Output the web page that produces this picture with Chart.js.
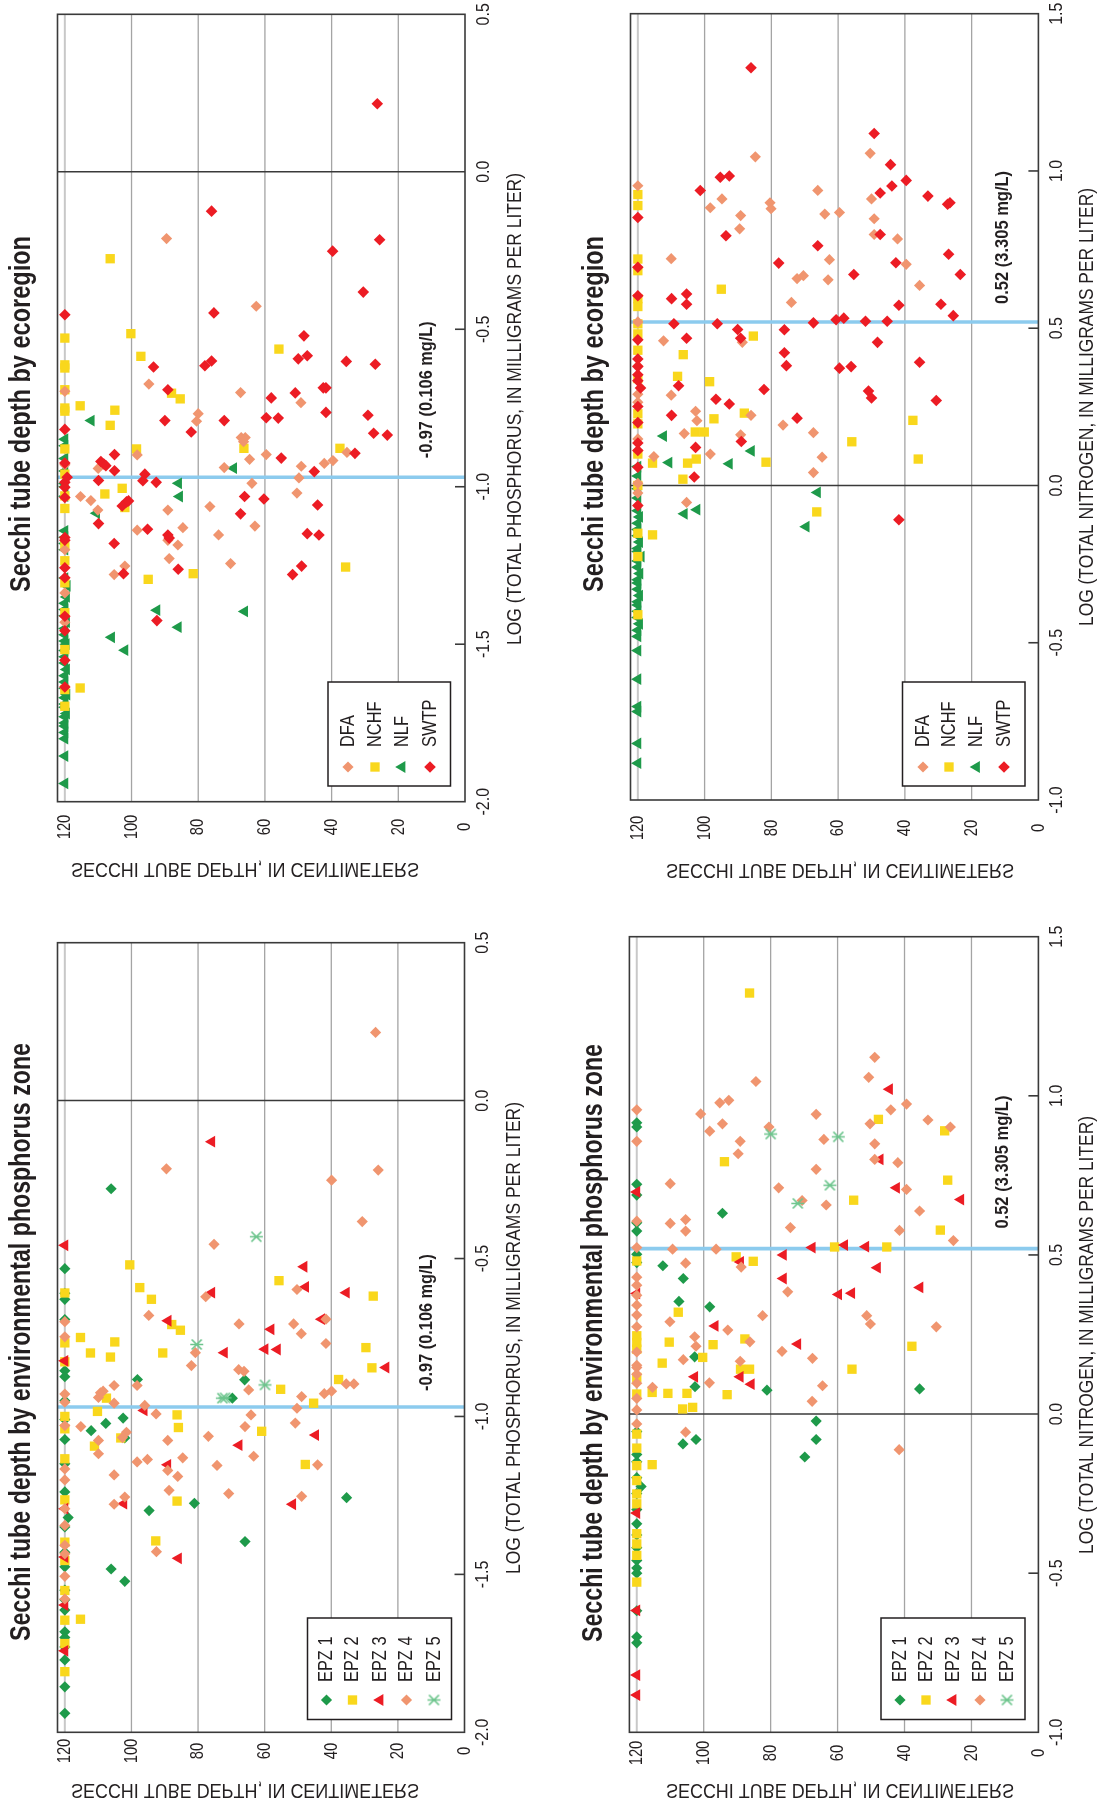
<!DOCTYPE html>
<html>
<head>
<meta charset="utf-8">
<title>Secchi tube depth</title>
<script src="https://cdn.jsdelivr.net/npm/chart.js@4.4.1/dist/chart.umd.min.js"></script>
<style>
  html, body { margin: 0; padding: 0; background: #ffffff; }
  #page { position: relative; width: 1101px; height: 1807px; overflow: hidden; background: #ffffff; }
  #page canvas { position: absolute; left: 0; top: 0; }
</style>
</head>
<body>
<div id="page">
  <canvas id="pEco" width="1101" height="1807"></canvas>
  <canvas id="nEco" width="1101" height="1807"></canvas>
  <canvas id="pEpz" width="1101" height="1807"></canvas>
  <canvas id="nEpz" width="1101" height="1807"></canvas>
</div>
<script>
// ---- axis ticks and reference lines ----
const SECCHI_TICKS = [0, 20, 40, 60, 80, 100, 120];
const TP_TICKS = [-2.0, -1.5, -1.0, -0.5, 0.0, 0.5];
const TN_TICKS = [-1.0, -0.5, 0.0, 0.5, 1.0, 1.5];
const TP_MEDIAN = -0.97;
const TP_MEDIAN_LABEL = '-0.97 (0.106 mg/L)';
const TN_MEDIAN = 0.52;
const TN_MEDIAN_LABEL = '0.52 (3.305 mg/L)';
const ECOREGIONS = ['DFA', 'NCHF', 'NLF', 'SWTP'];
const ZONES = ['EPZ 1', 'EPZ 2', 'EPZ 3', 'EPZ 4', 'EPZ 5'];

// ---- lakes: [Secchi tube depth (cm), log total phosphorus] by ecoregion ----
const P_ECO_DFA = [[89.5,-0.212],[62.6,-0.427],[94.8,-0.674],[67.3,-0.701],[49.2,-0.733],[80.0,-0.768],[80.5,-0.792],[67.1,-0.844],[65.9,-0.844],[120,-0.697],
  [98.3,-0.899],[66.4,-0.857],[64.6,-0.913],[59.6,-0.898],[72.2,-0.939],[49.1,-0.935],[42.2,-0.926],[39.6,-0.917],[35.4,-0.891],[49.8,-0.972],[63.9,-0.989],[110.0,-0.942],
  [115.3,-1.031],[112.2,-1.044],[110.1,-1.074],[50.4,-1.02],[76.5,-1.063],[89.1,-1.074],[98.3,-1.138],[84.6,-1.13],[73.9,-1.153],[63.0,-1.125],[89.1,-1.17],[86.1,-1.185],
  [88.7,-1.228],[70.3,-1.244],[102.0,-1.252],[105.2,-1.279],[120,-1.337],[120,-0.93],[120,-1.2],[120,-1.43]];
const P_ECO_NCHF = [[106.4,-0.276],[100.2,-0.514],[97.2,-0.586],[55.8,-0.563],[120,-0.528],[120,-0.613],[120,-0.623],[120,-0.692],[120,-0.75],[120,-0.76],
  [88.0,-0.703],[85.4,-0.721],[115.4,-0.743],[105.0,-0.757],[106.4,-0.805],[98.5,-0.88],[66.3,-0.878],[37.5,-0.878],
  [120,-0.88],[120,-0.96],[120,-1.029],[120,-1.069],[120,-1.187],[120,-1.235],[120,-1.305],[120,-1.4],[120,-1.517],[120,-1.644],[120,-1.697],
  [108.0,-1.023],[102.8,-1.005],[102.0,-1.066],[81.5,-1.276],[95.0,-1.294],[115.4,-1.639],[35.8,-1.255]];
const P_ECO_NLF = [[112.1,-0.79],[69.4,-0.941],[85.9,-0.989],[85.6,-1.031],[110.5,-1.084],[66.1,-1.396],[92.4,-1.392],[86.0,-1.446],[106.0,-1.478],[102.0,-1.519],[119.3,-1.315],
  [120,-0.849],[120,-0.87],[120,-0.91],[120,-0.95],[120,-0.99],[120,-1.0],[120,-1.03],[120,-1.14],[120,-1.16],[120,-1.18],[120,-1.2],[120,-1.29],[119.5,-1.35],[120,-1.37],
  [120,-1.39],[120,-1.41],[119.5,-1.43],[120,-1.45],[120,-1.47],[120,-1.49],[119.6,-1.5],[120,-1.52],[120,-1.54],[120,-1.56],[119.5,-1.58],[120,-1.6],[120,-1.62],[120,-1.64],
  [119.4,-1.66],[120,-1.67],[120,-1.69],[120,-1.7],[119.5,-1.72],[120,-1.73],[120,-1.75],[120,-1.76],[120,-1.78],[120,-1.8],[120,-1.855],[120,-1.942]];
const P_ECO_SWTP = [[26.3,0.216],[76.0,-0.125],[25.6,-0.216],[39.7,-0.252],[30.5,-0.382],[120,-0.454],[75.3,-0.448],[48.3,-0.521],[50.0,-0.594],[47.3,-0.584],[35.6,-0.602],
  [26.9,-0.611],[78.0,-0.616],[76.0,-0.601],[93.4,-0.62],[42.5,-0.686],[41.7,-0.686],[89.1,-0.692],[58.1,-0.718],[50.9,-0.702],[41.7,-0.764],[29.1,-0.773],[59.6,-0.781],
  [56.0,-0.782],[90.0,-0.79],[72.2,-0.79],[82.1,-0.826],[27.4,-0.83],[23.3,-0.836],[120,-0.818],
  [105.1,-0.898],[109.2,-0.92],[108.3,-0.928],[107.7,-0.933],[105.1,-0.949],[120,-0.925],[109.9,-0.98],[96.0,-0.96],[96.6,-0.981],[92.6,-0.986],[120,-0.986],[120,-1.002],
  [119.3,-0.97],[55.1,-0.909],[33.0,-0.894],[45.2,-0.952],[66.1,-1.031],[60.3,-1.039],[44.2,-1.058],[120,-1.034],[120,-1.161],[120,-1.17],[120,-1.257],[120,-1.289],
  [120,-1.411],[120,-1.457],[120,-1.551],[120,-1.636],[102.8,-1.061],[101.5,-1.048],[100.9,-1.045],[109.9,-1.117],[95.2,-1.135],[67.3,-1.086],[105.2,-1.18],[89.1,-1.153],
  [88.7,-1.163],[47.3,-1.149],[43.8,-1.153],[102.4,-1.276],[86.0,-1.262],[49.0,-1.252],[51.7,-1.279],[92.4,-1.425]];

// ---- lakes: [Secchi tube depth (cm), log total nitrogen] by ecoregion ----
const N_ECO_DFA = [[84.8,1.045],[50.4,1.056],[120,0.953],[66.1,0.938],[94.8,0.911],[50.0,0.911],[98.3,0.883],[80.4,0.899],[80.1,0.88],[89.2,0.858],[64.0,0.863],[59.6,0.868],
  [49.2,0.848],[89.5,0.816],[49.2,0.798],[42.2,0.784],[110.0,0.721],[62.6,0.718],[39.6,0.703],[72.3,0.658],[70.4,0.667],[63.0,0.654],[35.6,0.636],[74.0,0.582],[112.3,0.46],
  [88.7,0.455],[110.0,0.287],[102.7,0.236],[102.3,0.206],[86.1,0.223],[76.5,0.192],[67.4,0.168],[106.1,0.165],[89.2,0.161],[120,0.52],[120,0.38],[120,0.29],[120,0.265],
  [120,0.148],[115.2,0.092],[98.3,0.1],[64.8,0.09],[67.4,0.041],[105.4,-0.054],[120,0.007],[120,-0.024]];
const N_ECO_NCHF = [[120,0.925],[120,0.89],[120,0.72],[120,0.683],[120,0.594],[120,0.569],[120,0.514],[120,0.482],[120,0.43],[120,0.34],[120,0.228],[120,0.196],
  [95.0,0.624],[85.4,0.475],[106.4,0.416],[108.1,0.347],[98.5,0.33],[88.1,0.23],[97.2,0.212],[102.8,0.17],[100.1,0.17],[37.6,0.207],[55.9,0.139],
  [115.6,0.071],[105.1,0.071],[102.5,0.084],[81.6,0.074],[36.0,0.084],[106.5,0.02],[66.4,-0.084],[115.6,-0.157],[120,0.0],[120,0.1],[120,-0.152],[120,-0.226],[120,-0.411]];
const N_ECO_NLF = [[112.3,0.157],[86.0,0.11],[110.7,0.073],[92.6,0.069],[106.1,-0.09],[102.3,-0.077],[66.2,-0.022],[69.6,-0.131],[119,-0.226],
  [120,0.06],[120,0.03],[120,-0.01],[120,-0.04],[120,-0.08],[119.5,-0.1],[120,-0.12],[120,-0.14],[120,-0.16],[119.5,-0.18],[120,-0.2],[120,-0.21],[120,-0.24],[120,-0.26],
  [119.4,-0.28],[120,-0.3],[120,-0.31],[120,-0.33],[119.5,-0.35],[120,-0.37],[120,-0.38],[120,-0.4],[120,-0.42],[119.5,-0.44],[120,-0.46],[120,-0.48],[120,-0.525],
  [120,-0.616],[120,-0.703],[120,-0.719],[120,-0.82],[120,-0.883]];
const N_ECO_SWTP = [[86.1,1.328],[49.2,1.119],[44.3,1.02],[39.6,0.97],[43.9,0.952],[47.4,0.93],[33.1,0.92],[27.2,0.894],[26.5,0.899],[95.3,0.98],[92.6,0.984],[101.3,0.938],
  [120,0.852],[93.6,0.794],[47.4,0.798],[66.1,0.762],[26.9,0.735],[77.8,0.707],[42.7,0.708],[23.4,0.671],[55.3,0.671],[120,0.694],[120,0.603],[109.9,0.594],[105.4,0.609],
  [105.4,0.576],[41.8,0.573],[29.2,0.576],[25.5,0.54],[109.2,0.514],[96.2,0.514],[67.4,0.517],[60.6,0.527],[58.3,0.532],[51.8,0.522],[45.3,0.522],[90.1,0.496],[76.1,0.495],
  [89.2,0.468],[105.4,0.468],[120,0.463],[48.2,0.455],[76.1,0.422],[75.5,0.381],[59.6,0.373],[56.1,0.378],[35.6,0.392],[120,0.402],[120,0.378],[120,0.352],[120,0.333],
  [119.2,0.31],[107.8,0.317],[82.2,0.305],[50.9,0.3],[50.0,0.278],[30.6,0.27],[96.6,0.274],[92.6,0.259],[109.9,0.223],[72.3,0.214],[120,0.251],[120,0.2],[102.7,0.121],
  [89.0,0.14],[120,0.135],[120,0.111],[120,0.058],[103.1,0.027],[120,-0.064],[41.8,-0.109]];

// ---- lakes: [Secchi tube depth (cm), log total phosphorus] by phosphorus zone ----
const P_EPZ1 = [[106.1,-0.279],[120,-0.532],[120,-0.61],[120,-0.629],[120,-0.693],[98.2,-0.883],[66.0,-0.884],[69.7,-0.942],[102.5,-1.005],[107.7,-1.022],[112.1,-1.045],
  [102.0,-1.068],[81.1,-1.275],[94.7,-1.298],[35.4,-1.257],[65.9,-1.396],[106.1,-1.483],[102.0,-1.522],[120,-0.855],[120,-0.874],[120,-1.073],[120,-1.239],[119,-1.32],
  [120,-1.476],[120,-1.613],[120,-1.682],[120,-1.771],[120,-1.856],[120,-1.94],[120,-0.95],[120,-1.01],[120,-1.15],[120,-1.35],[120,-1.43],[120,-1.55],[120,-1.58],
  [120,-1.7],[120,-1.73]];
const P_EPZ2 = [[100.5,-0.52],[97.5,-0.592],[94.0,-0.629],[55.7,-0.57],[27.4,-0.619],[87.9,-0.709],[85.3,-0.727],[115.3,-0.75],[112.3,-0.799],[105.0,-0.764],[106.3,-0.812],
  [90.6,-0.799],[29.6,-0.782],[27.8,-0.846],[120,-0.609],[120,-0.767],[120,-0.827],[110.2,-0.984],[86.3,-0.995],[85.9,-1.035],[107.5,-0.942],[111.1,-1.094],[103.2,-1.068],
  [60.9,-1.047],[55.2,-0.914],[37.8,-0.883],[45.3,-0.958],[47.8,-1.152],[86.3,-1.268],[92.7,-1.394],[115.3,-1.642],[120,-1.0],[120,-1.039],[120,-1.134],[120,-1.264],
  [120,-1.398],[120,-1.456],[120,-1.551],[120,-1.645],[120,-1.719],[120,-1.808]];
const P_EPZ3 = [[75.9,-0.13],[120,-0.458],[48.2,-0.526],[47.7,-0.59],[75.9,-0.608],[35.5,-0.608],[42.9,-0.692],[89.0,-0.697],[58.1,-0.724],[72.1,-0.798],[59.9,-0.787],
  [56.2,-0.788],[120,-0.824],[23.6,-0.845],[96.2,-0.981],[44.7,-1.059],[67.7,-1.091],[89.1,-1.153],[102.3,-1.276],[51.6,-1.278],[85.9,-1.449],[120,-1.292],[120,-1.445],
  [120,-1.597],[120,-1.742]];
const P_EPZ4 = [[26.7,0.216],[89.5,-0.216],[25.9,-0.22],[39.9,-0.252],[30.7,-0.383],[75.2,-0.455],[50.3,-0.598],[77.7,-0.621],[94.8,-0.68],[67.7,-0.707],[51.3,-0.707],
  [49.0,-0.738],[41.6,-0.692],[41.6,-0.769],[80.8,-0.798],[120,-0.7],[120,-0.748],[82.0,-0.839],[67.8,-0.852],[66.2,-0.857],[35.5,-0.897],[33.2,-0.897],[39.9,-0.92],
  [42.1,-0.928],[48.9,-0.937],[50.3,-0.974],[50.8,-1.021],[64.8,-0.916],[64.1,-0.995],[65.9,-1.032],[63.3,-1.126],[76.9,-1.063],[74.3,-1.155],[89.1,-1.076],[84.6,-1.131],
  [89.1,-1.171],[86.1,-1.19],[88.7,-1.234],[70.8,-1.244],[48.9,-1.253],[44.1,-1.153],[92.5,-1.428],[98.3,-0.902],[98.3,-1.144],[95.2,-1.136],[92.6,-0.992],[96.0,-0.965],
  [105.2,-0.902],[105.2,-0.958],[109.9,-0.94],[109.3,-0.925],[108.5,-0.92],[105.2,-1.185],[105.2,-1.278],[102.0,-1.255],[102.7,-1.067],[101.5,-1.05],[109.9,-1.076],
  [109.9,-1.118],[115.2,-1.032],[120,-0.929],[120,-0.955],[120,-1.029],[120,-1.166],[120,-1.201],[120,-1.292],[120,-1.345],[120,-1.408],[120,-1.435],[120,-1.506],
  [120,-1.578]];
const P_EPZ5 = [[62.5,-0.431],[80.4,-0.772],[59.9,-0.9],[71.9,-0.941],[72.7,-0.942]];

// ---- lakes: [Secchi tube depth (cm), log total nitrogen] by phosphorus zone ----
const N_EPZ1 = [[120,0.915],[120,0.902],[120,0.722],[120,0.688],[120,0.601],[120,0.575],[94.4,0.631],[112.2,0.466],[106.1,0.426],[107.4,0.354],[98.2,0.337],[102.7,0.18],
  [120,0.502],[120,0.476],[102.6,0.086],[81.1,0.075],[35.5,0.079],[66.4,-0.022],[106.2,-0.094],[102.3,-0.08],[66.4,-0.08],[69.8,-0.135],[120,-0.055],[120,-0.127],
  [118.7,-0.228],[120,-0.345],[120,-0.46],[120,-0.484],[120,-0.618],[120,-0.7],[120,-0.719],[120,-0.15],[120,-0.2],[120,-0.25],[120,-0.3],[120,-0.38],[120,-0.42],[120,-0.5]];
const N_EPZ2 = [[86.3,1.323],[47.8,0.926],[28.0,0.89],[93.8,0.793],[27.1,0.735],[55.2,0.672],[29.3,0.578],[60.9,0.525],[45.3,0.525],[90.3,0.494],[85.2,0.48],[107.6,0.32],
  [110.3,0.226],[87.7,0.236],[97.2,0.218],[37.8,0.213],[112.4,0.16],[100.3,0.178],[120,0.481],[120,0.246],[120,0.225],[120,0.204],[89.0,0.141],[86.3,0.141],[55.7,0.141],
  [115.4,0.068],[110.7,0.065],[105.0,0.065],[93.0,0.061],[106.3,0.016],[103.3,0.021],[115.4,-0.159],[120,0.115],[120,0.063],[120,-0.063],[120,-0.107],[120,-0.162],
  [120,-0.209],[120,-0.251],[120,-0.282],[120,-0.376],[120,-0.408],[120,-0.444],[120,-0.528]];
const N_EPZ3 = [[44.5,1.021],[47.3,0.8],[42.4,0.711],[23.2,0.674],[120,0.698],[67.6,0.523],[57.9,0.531],[51.6,0.526],[76.2,0.5],[48.1,0.46],[76.2,0.426],[35.4,0.398],
  [59.7,0.376],[55.8,0.38],[89.0,0.478],[120,0.379],[96.6,0.277],[71.9,0.22],[102.7,0.117],[89.1,0.117],[85.8,0.094],[120,-0.311],[120,-0.617],[120,-0.82],[120,-0.883]];
const N_EPZ4 = [[48.9,1.121],[50.7,1.058],[84.4,1.045],[120,0.956],[100.9,0.943],[95.2,0.978],[92.5,0.986],[66.4,0.942],[39.4,0.974],[44.1,0.956],[33.0,0.924],[94.4,0.912],
  [50.3,0.912],[26.3,0.902],[80.5,0.902],[98.2,0.889],[120,0.857],[89.1,0.857],[64.1,0.863],[48.9,0.849],[89.7,0.818],[48.9,0.8],[42.0,0.79],[66.4,0.769],[110.0,0.724],
  [77.6,0.711],[39.4,0.706],[70.6,0.671],[63.4,0.657],[35.5,0.638],[74.1,0.586],[41.5,0.577],[110.0,0.599],[105.4,0.611],[105.4,0.575],[25.4,0.545],[120,0.606],[120,0.523],
  [109.3,0.518],[96.3,0.518],[105.4,0.474],[88.8,0.462],[74.9,0.384],[82.4,0.309],[51.3,0.309],[50.2,0.283],[30.5,0.274],[110.1,0.29],[92.8,0.264],[102.7,0.243],
  [102.3,0.213],[86.2,0.227],[76.6,0.197],[67.5,0.175],[106.1,0.171],[89.1,0.166],[120,0.43],[120,0.405],[120,0.373],[120,0.342],[120,0.311],[120,0.274],[120,0.195],
  [120,0.153],[98.3,0.098],[64.5,0.089],[67.6,0.04],[115.3,0.084],[105.4,-0.057],[41.6,-0.112],[120,0.146],[120,0.125],[120,0.097],[120,0.049],[120,0.013],[120,-0.031]];
const N_EPZ5 = [[80.0,0.88],[59.8,0.871],[62.3,0.719],[71.9,0.662]];

// ---- marker styles ----
const INK = '#231f20';
const FONT = "'Liberation Sans', Arial, Helvetica, sans-serif";

function asterisk(color) {
  const c = document.createElement('canvas');
  c.width = 15; c.height = 15;
  const g = c.getContext('2d');
  g.strokeStyle = color; g.lineWidth = 1.7; g.lineCap = 'butt';
  g.beginPath();
  g.moveTo(2.5, 2.5); g.lineTo(12.5, 12.5);
  g.moveTo(12.5, 2.5); g.lineTo(2.5, 12.5);
  g.moveTo(1, 7.5); g.lineTo(14, 7.5);
  g.stroke();
  return c;
}

const MARK = {
  salmonDiamond: { pointStyle: 'rectRot', rotation: 0, radius: 5.6, color: '#F0956F' },
  yellowSquare:  { pointStyle: 'rect', rotation: 0, radius: 6.6, color: '#F9D71C' },
  greenTriangle: { pointStyle: 'triangle', rotation: -90, radius: 6.8, color: '#1E9A4A' },
  redDiamond:    { pointStyle: 'rectRot', rotation: 0, radius: 5.8, color: '#EC1C24' },
  greenDiamond:  { pointStyle: 'rectRot', rotation: 0, radius: 5.6, color: '#1E9A4A' },
  redTriangle:   { pointStyle: 'triangle', rotation: -90, radius: 6.8, color: '#EC1C24' },
  paleAsterisk:  { pointStyle: asterisk('#6CC48C'), rotation: 0, radius: 7, color: '#6CC48C' }
};

// ---- text helpers: the sheet is laid out sideways ----
function upText(ctx, str, x, y, size, opt) {
  opt = opt || {};
  ctx.save();
  ctx.translate(x, y);
  ctx.rotate(-Math.PI / 2);
  ctx.font = (opt.bold ? 'bold ' : '') + size + 'px ' + FONT;
  let sx = opt.sx || 1;
  if (opt.width) sx = opt.width / ctx.measureText(str).width;
  ctx.scale(sx, 1);
  ctx.textAlign = opt.align || 'center';
  ctx.textBaseline = 'middle';
  ctx.fillStyle = INK;
  ctx.fillText(str, 0, 0);
  ctx.restore();
}
function flippedText(ctx, str, x, y, size, width) {
  ctx.save();
  ctx.translate(x, y);
  ctx.font = size + 'px ' + FONT;
  const sx = width / ctx.measureText(str).width;
  ctx.scale(sx, -1);
  ctx.textAlign = 'center';
  ctx.textBaseline = 'middle';
  ctx.fillStyle = INK;
  ctx.fillText(str, 0, 0);
  ctx.restore();
}
function drawMark(ctx, m, x, y) {
  ctx.save();
  ctx.fillStyle = m.color; ctx.strokeStyle = m.color;
  if (Chart.helpers && Chart.helpers.drawPoint) {
    Chart.helpers.drawPoint(ctx, { pointStyle: m.pointStyle, rotation: m.rotation, radius: m.radius, borderWidth: 0 }, x, y);
  }
  ctx.restore();
}
function seg(ctx, x1, y1, x2, y2) { ctx.beginPath(); ctx.moveTo(x1, y1); ctx.lineTo(x2, y2); ctx.stroke(); }

// ---- one sideways panel ----
function panelPlugin(p) {
  return {
    id: 'sidewaysPanel',
    beforeDatasetsDraw(chart) {
      const { ctx, chartArea: a, scales: { x, y } } = chart;
      ctx.save();
      SECCHI_TICKS.forEach(v => {
        if (v === 0) return;
        const px = x.getPixelForValue(v);
        ctx.strokeStyle = v === 120 ? '#c8c8c8' : '#a4a4a4';
        ctx.lineWidth = v === 120 ? 2 : 1.3;
        seg(ctx, px, a.top, px, a.bottom);
      });
      const y0 = y.getPixelForValue(0);
      ctx.strokeStyle = '#3a3a3a'; ctx.lineWidth = 1.5;
      seg(ctx, a.left, y0, a.right, y0);
      const ym = y.getPixelForValue(p.median);
      ctx.strokeStyle = '#8CCBEE'; ctx.lineWidth = 3.6;
      seg(ctx, a.left, ym, a.right, ym);
      ctx.restore();
    },
    afterDatasetsDraw(chart) {
      const { ctx, chartArea: a, scales: { x, y } } = chart;
      ctx.save();
      // frame and inner tick marks on the log axis
      ctx.strokeStyle = '#3a3a3a'; ctx.lineWidth = 1.6;
      ctx.strokeRect(a.left, a.top, a.right - a.left, a.bottom - a.top);
      p.logTicks.forEach(v => {
        if (v === 0 || v === p.logTicks[0] || v === p.logTicks[p.logTicks.length - 1]) return;
        const py = y.getPixelForValue(v);
        seg(ctx, a.right - 10, py, a.right, py);
      });
      // log axis tick labels
      p.logTicks.forEach(v => {
        upText(ctx, v.toFixed(1), p.logLabelX, y.getPixelForValue(v), 19, { sx: 0.84 });
      });
      // Secchi tick labels
      SECCHI_TICKS.forEach(v => {
        upText(ctx, String(v), x.getPixelForValue(v), p.secchiLabelY, 19, { sx: 0.78 });
      });
      // axis titles and panel title
      upText(ctx, p.logTitle, p.logTitleX, p.logTitleY, 20, { width: p.logTitleW });
      flippedText(ctx, 'SECCHI TUBE DEPTH, IN CENTIMETERS', p.secchiTitleX, p.secchiTitleY, 20, 348);
      upText(ctx, p.title, p.titleX, p.titleY, 30, { bold: true, width: p.titleW });
      // median annotation
      upText(ctx, p.medianLabel, p.medianLabelX, y.getPixelForValue(p.median) - p.medianGap, 18,
        { bold: true, align: 'left', width: p.medianLabelW });
      // legend
      const L = p.legend;
      ctx.fillStyle = '#ffffff';
      ctx.fillRect(L.x, L.y, L.w, L.h);
      ctx.strokeStyle = '#231f20'; ctx.lineWidth = 1.5;
      ctx.strokeRect(L.x, L.y, L.w, L.h);
      p.series.forEach((s, i) => {
        drawMark(ctx, s.mark, L.cols[i], L.markY);
        upText(ctx, s.name, L.cols[i], L.textY, 21, { align: 'left', sx: 0.78 });
      });
      ctx.restore();
    }
  };
}

function buildPanel(id, p) {
  const W = 1101, H = 1807;
  const datasets = p.series.map(s => ({
    label: s.name,
    data: s.data.map(d => ({ x: d[0], y: d[1] })),
    pointStyle: s.mark.pointStyle,
    rotation: s.mark.rotation,
    pointRadius: s.mark.radius,
    pointBorderWidth: 0,
    backgroundColor: s.mark.color,
    borderColor: s.mark.color,
    showLine: false,
    order: s.order,
    clip: false
  }));
  new Chart(document.getElementById(id), {
    type: 'scatter',
    data: { datasets },
    options: {
      responsive: false,
      animation: false,
      devicePixelRatio: 1,
      events: [],
      layout: { padding: { left: p.box.l, top: p.box.t, right: W - p.box.r, bottom: H - p.box.b } },
      plugins: { legend: { display: false }, tooltip: { enabled: false } },
      scales: {
        x: { type: 'linear', display: false, min: 0, max: 122.2, reverse: true },
        y: { type: 'linear', display: false, min: p.logTicks[0], max: p.logTicks[p.logTicks.length - 1] }
      }
    },
    plugins: [panelPlugin(p)]
  });
}

const TP_TITLE = 'LOG (TOTAL PHOSPHORUS, IN MILLIGRAMS PER LITER)';
const TN_TITLE = 'LOG (TOTAL NITROGEN, IN MILLIGRAMS PER LITER)';
const ECO_TITLE = 'Secchi tube depth by ecoregion';
const EPZ_TITLE = 'Secchi tube depth by environmental phosphorus zone';

buildPanel('pEco', {
  box: { l: 57.5, t: 14.3, r: 465, b: 801.7 },
  logTicks: TP_TICKS, median: TP_MEDIAN, medianLabel: TP_MEDIAN_LABEL,
  medianLabelX: 427, medianGap: 19, medianLabelW: 137,
  logLabelX: 484, secchiLabelY: 827,
  logTitle: TP_TITLE, logTitleX: 515, logTitleY: 409, logTitleW: 472,
  secchiTitleX: 245, secchiTitleY: 869,
  title: ECO_TITLE, titleX: 22, titleY: 414, titleW: 356,
  legend: { x: 328, y: 682, w: 122.5, h: 104, markY: 767, textY: 747, cols: [348, 375, 402, 430] },
  series: [
    { name: ECOREGIONS[0], data: P_ECO_DFA, mark: MARK.salmonDiamond, order: 2 },
    { name: ECOREGIONS[1], data: P_ECO_NCHF, mark: MARK.yellowSquare, order: 3 },
    { name: ECOREGIONS[2], data: P_ECO_NLF, mark: MARK.greenTriangle, order: 4 },
    { name: ECOREGIONS[3], data: P_ECO_SWTP, mark: MARK.redDiamond, order: 1 }
  ]
});

buildPanel('nEco', {
  box: { l: 630.5, t: 13.7, r: 1038.4, b: 800 },
  logTicks: TN_TICKS, median: TN_MEDIAN, medianLabel: TN_MEDIAN_LABEL,
  medianLabelX: 1003, medianGap: 18, medianLabelW: 133,
  logLabelX: 1057, secchiLabelY: 828,
  logTitle: TN_TITLE, logTitleX: 1087, logTitleY: 407, logTitleW: 438,
  secchiTitleX: 840, secchiTitleY: 870,
  title: ECO_TITLE, titleX: 595, titleY: 414, titleW: 356,
  legend: { x: 902.5, y: 682, w: 122.5, h: 104, markY: 767, textY: 747, cols: [923, 949, 976.5, 1004] },
  series: [
    { name: ECOREGIONS[0], data: N_ECO_DFA, mark: MARK.salmonDiamond, order: 2 },
    { name: ECOREGIONS[1], data: N_ECO_NCHF, mark: MARK.yellowSquare, order: 3 },
    { name: ECOREGIONS[2], data: N_ECO_NLF, mark: MARK.greenTriangle, order: 4 },
    { name: ECOREGIONS[3], data: N_ECO_SWTP, mark: MARK.redDiamond, order: 1 }
  ]
});

buildPanel('pEpz', {
  box: { l: 57.5, t: 942.7, r: 464.5, b: 1732.3 },
  logTicks: TP_TICKS, median: TP_MEDIAN, medianLabel: TP_MEDIAN_LABEL,
  medianLabelX: 427, medianGap: 16, medianLabelW: 137,
  logLabelX: 483, secchiLabelY: 1751,
  logTitle: TP_TITLE, logTitleX: 514, logTitleY: 1338, logTitleW: 472,
  secchiTitleX: 245, secchiTitleY: 1790,
  title: EPZ_TITLE, titleX: 22, titleY: 1342, titleW: 598,
  legend: { x: 307.5, y: 1618, w: 144, h: 101.5, markY: 1700, textY: 1682, cols: [326.5, 352.5, 380, 406.5, 434] },
  series: [
    { name: ZONES[0], data: P_EPZ1, mark: MARK.greenDiamond, order: 5 },
    { name: ZONES[1], data: P_EPZ2, mark: MARK.yellowSquare, order: 4 },
    { name: ZONES[2], data: P_EPZ3, mark: MARK.redTriangle, order: 3 },
    { name: ZONES[3], data: P_EPZ4, mark: MARK.salmonDiamond, order: 2 },
    { name: ZONES[4], data: P_EPZ5, mark: MARK.paleAsterisk, order: 1 }
  ]
});

buildPanel('nEpz', {
  box: { l: 629.4, t: 936.7, r: 1038.4, b: 1732.3 },
  logTicks: TN_TICKS, median: TN_MEDIAN, medianLabel: TN_MEDIAN_LABEL,
  medianLabelX: 1003, medianGap: 20, medianLabelW: 133,
  logLabelX: 1057, secchiLabelY: 1753,
  logTitle: TN_TITLE, logTitleX: 1087, logTitleY: 1335, logTitleW: 438,
  secchiTitleX: 840, secchiTitleY: 1790,
  title: EPZ_TITLE, titleX: 594, titleY: 1343, titleW: 598,
  legend: { x: 881, y: 1618, w: 144, h: 101.5, markY: 1700, textY: 1682, cols: [900, 926, 953, 980, 1007] },
  series: [
    { name: ZONES[0], data: N_EPZ1, mark: MARK.greenDiamond, order: 5 },
    { name: ZONES[1], data: N_EPZ2, mark: MARK.yellowSquare, order: 4 },
    { name: ZONES[2], data: N_EPZ3, mark: MARK.redTriangle, order: 3 },
    { name: ZONES[3], data: N_EPZ4, mark: MARK.salmonDiamond, order: 2 },
    { name: ZONES[4], data: N_EPZ5, mark: MARK.paleAsterisk, order: 1 }
  ]
});
</script>
</body>
</html>
